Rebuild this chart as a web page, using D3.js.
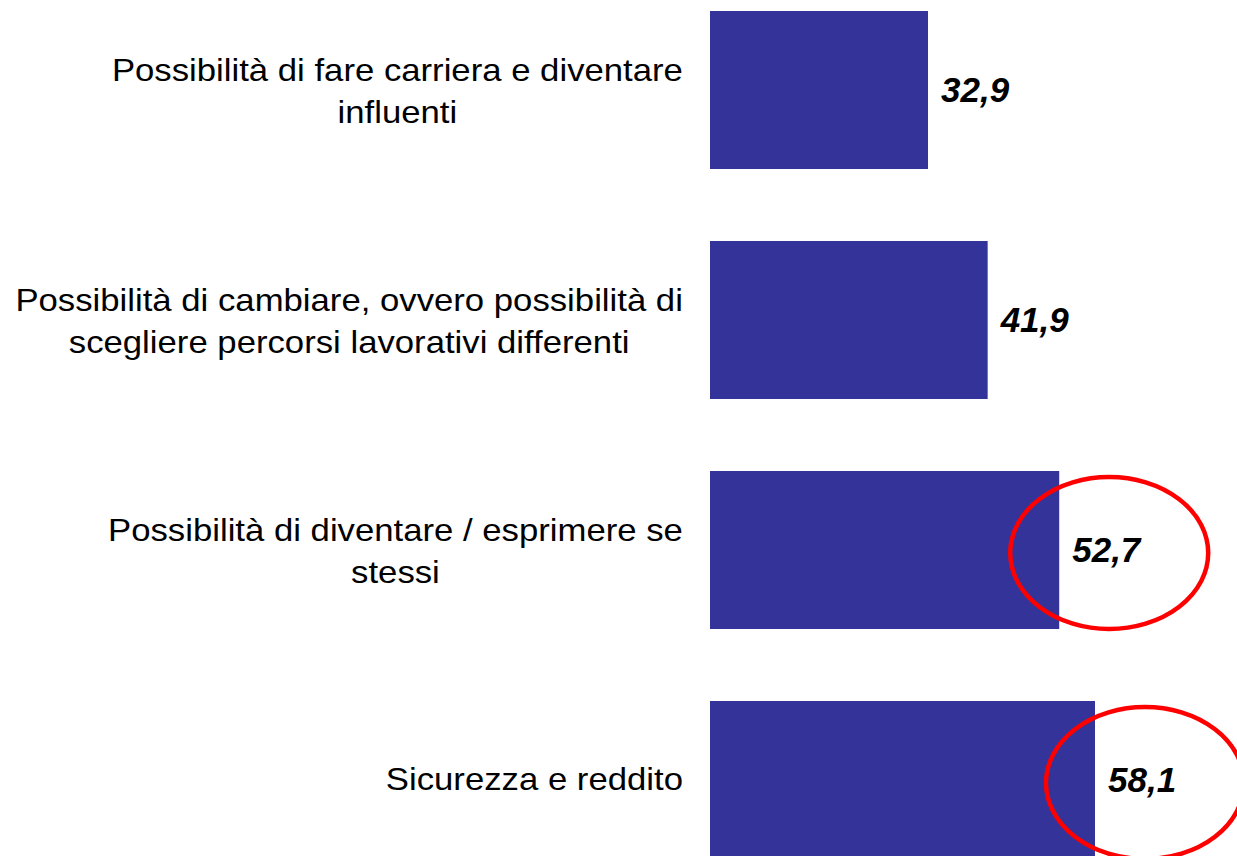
<!DOCTYPE html>
<html>
<head>
<meta charset="utf-8">
<script src="https://cdn.jsdelivr.net/npm/d3@7"></script>
<style>
  body { margin: 0; background: #fff; }
  svg { display: block; }
</style>
</head>
<body>
<svg width="1237" height="856"></svg>
<script>
// categories, one line per array entry
var categories = [
	["Possibilità di fare carriera e diventare", "influenti"],
	["Possibilità di cambiare, ovvero possibilità di", "scegliere percorsi lavorativi differenti"],
	["Possibilità di diventare / esprimere se", "stessi"],
	["Sicurezza e reddito"]
];
var values = [32.9, 41.9, 52.7, 58.1];
var valueLabels = ["32,9", "41,9", "52,7", "58,1"];
// which bars get the red ring
var highlighted = [false, false, true, true];

var svg = d3.select("svg");

var rows = values.map(function(v, i) {
	return { id: i, lines: categories[i], value: v, label: valueLabels[i], ring: highlighted[i] };
});

var x = d3.scaleLinear()
		.domain([0, 58.1])
		.range([710, 1095]);

var y = d3.scaleBand()
		.domain(rows.map(function(d) { return d.id; }))
		.range([11, 859])
		.paddingInner(0.313)
		.paddingOuter(0);

svg.selectAll("rect.bar")
	.data(rows)
	.enter().append("rect")
		.attr("class", "bar")
		.attr("x", x(0))
		.attr("y", function(d) { return y(d.id); })
		.attr("width", function(d) { return x(d.value) - x(0); })
		.attr("height", y.bandwidth())
		.attr("fill", "#333399");

// category labels: block right aligned at 683, lines centred inside it
var labelRight = 683;
var lineH = 42;
var stretch = 1.085; // the source font is a bit wider than Liberation Sans

var cat = svg.selectAll("text.cat")
	.data(rows)
	.enter().append("text")
		.attr("class", "cat")
		.attr("text-anchor", "middle")
		.attr("font-family", "Liberation Sans, Arial, sans-serif")
		.attr("font-size", 32)
		.attr("fill", "#000");

cat.selectAll("tspan")
	.data(function(d) {
		var mid = y(d.id) + y.bandwidth() / 2;
		var n = d.lines.length;
		return d.lines.map(function(t, j) {
			return { t: t, y: mid + (j - (n - 1) / 2) * lineH + (n > 1 ? 12 : 10) };
		});
	})
	.enter().append("tspan")
		.attr("y", function(d) { return d.y; })
		.text(function(d) { return d.t; });

cat.each(function() {
	var t = d3.select(this);
	var maxW = 0;
	t.selectAll("tspan").each(function() {
		maxW = Math.max(maxW, this.getComputedTextLength());
	});
	var cx = labelRight - maxW * stretch / 2;
	t.selectAll("tspan").attr("x", 0);
	t.attr("transform", "translate(" + cx + ",0) scale(" + stretch + ",1)");
});

// value labels
svg.selectAll("text.val")
	.data(rows)
	.enter().append("text")
		.attr("class", "val")
		.attr("x", function(d) { return x(d.value) + 13; })
		.attr("y", function(d) { return y(d.id) + y.bandwidth() / 2 + 12; })
		.attr("font-family", "Liberation Sans, Arial, sans-serif")
		.attr("font-size", 35)
		.attr("font-weight", "bold")
		.attr("font-style", "italic")
		.attr("fill", "#000")
		.text(function(d) { return d.label; });

// red rings round the two highest values
svg.selectAll("ellipse.ring")
	.data(rows.filter(function(d) { return d.ring; }))
	.enter().append("ellipse")
		.attr("class", "ring")
		.attr("cx", function(d) { return x(d.value) + 50; })
		.attr("cy", function(d) { return y(d.id) + y.bandwidth() / 2 + 3; })
		.attr("rx", 99)
		.attr("ry", 76)
		.attr("fill", "none")
		.attr("stroke", "#ff0000")
		.attr("stroke-width", 4.5);
</script>
</body>
</html>
